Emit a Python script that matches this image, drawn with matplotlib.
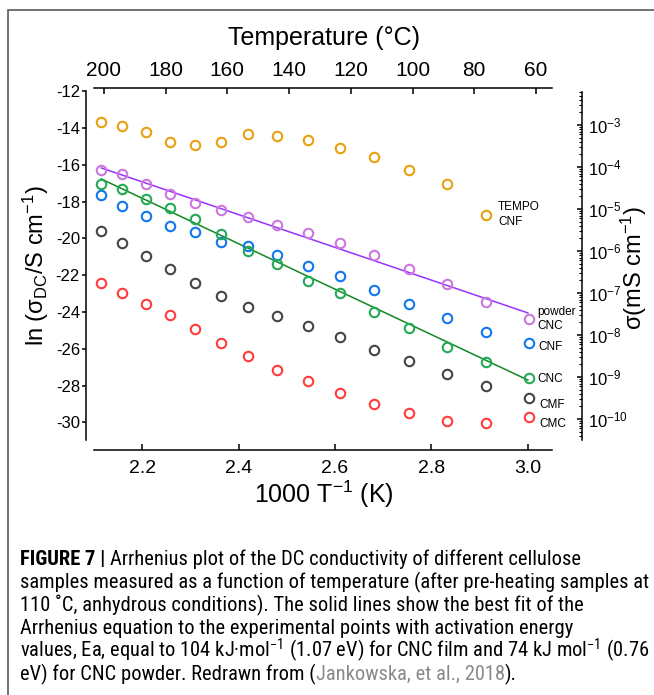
import numpy as np
import matplotlib
matplotlib.use("Agg")
import matplotlib.pyplot as plt
from matplotlib import font_manager
from matplotlib.ticker import FixedLocator, FuncFormatter, NullFormatter
from matplotlib.patches import Rectangle

plt.rcParams["font.family"] = ["Liberation Sans", "DejaVu Sans"]
plt.rcParams["axes.unicode_minus"] = False
plt.rcParams["mathtext.default"] = "regular"

# data: ln(sigma_DC / S cm-1) against 1000/T
inv_T = [2.114, 2.159, 2.207, 2.257, 2.309, 2.363, 2.420, 2.480,
         2.544, 2.610, 2.680, 2.754, 2.832, 2.914, 3.002]
tempo_cnf = [-13.66, -13.89, -14.23, -14.74, -14.92, -14.74, -14.33, -14.42,
             -14.65, -15.07, -15.59, -16.27, -17.06, -18.74]
powder_cnc = [-16.28, -16.50, -17.04, -17.60, -18.09, -18.47, -18.85, -19.27,
              -19.72, -20.27, -20.90, -21.65, -22.49, -23.44, -24.38]
cnf = [-17.64, -18.24, -18.78, -19.33, -19.67, -20.18, -20.40, -20.90,
       -21.48, -22.04, -22.80, -23.57, -24.33, -25.07, -25.70]
cnc_film = [-17.04, -17.33, -17.86, -18.36, -18.95, -19.76, -20.67, -21.39,
            -22.30, -22.98, -23.98, -24.85, -25.89, -26.70, -27.57]
cmf = [-19.60, -20.27, -20.96, -21.66, -22.41, -23.13, -23.73, -24.22,
       -24.76, -25.38, -26.07, -26.66, -27.37, -28.02, -28.66]
cmc = [-22.41, -22.98, -23.57, -24.17, -24.92, -25.70, -26.39, -27.15,
       -27.75, -28.39, -29.00, -29.51, -29.92, -30.05, -29.72]

# Arrhenius fit lines (end points)
powder_fit_x = [2.115, 3.0]
powder_fit_y = [-16.17, -24.05]
film_fit_x = [2.115, 3.0]
film_fit_y = [-16.77, -27.70]

x_ticks = [2.2, 2.4, 2.6, 2.8, 3.0]
y_ticks = [-12, -14, -16, -18, -20, -22, -24, -26, -28, -30]
temp_ticks = [200, 180, 160, 140, 120, 100, 80, 60]
sigma_exp = [-3, -4, -5, -6, -7, -8, -9, -10]

W, H = 654, 695
fig = plt.figure(figsize=(W / 100, H / 100), dpi=100)

# frame around the whole panel
fig.patches.append(Rectangle((8 / W, -0.05), 1.2, 1.05 - 10 / H, transform=fig.transFigure,
                             fill=False, ec="#5a5a5a", lw=1.2))

ax = fig.add_axes([94 / W, 1 - 440 / H, 458 / W, 352.3 / H])
ax.set_xlim(2.1, 3.05)
ax.set_ylim(-30.957, -11.81)

ms, mew = 6.8, 1.5
ax.plot(powder_fit_x, powder_fit_y, color="#9933FF", lw=1.1)
ax.plot(film_fit_x, film_fit_y, color="#118822", lw=1.1)

series = [
    (inv_T[:len(tempo_cnf)], tempo_cnf, "#E8A010"),
    (inv_T, powder_cnc, "#CC77DD"),
    (inv_T, cnf, "#1177EE"),
    (inv_T, cnc_film, "#22AA55"),
    (inv_T, cmf, "#444444"),
    (inv_T, cmc, "#FF3B3B"),
]
for xs, ys, c in series:
    ax.plot(xs, ys, "o", mfc="none", mec=c, ms=ms, mew=mew, clip_on=False)

lab = dict(fontsize=8.5, ha="left", va="center", linespacing=1.25)
ax.text(2.938, -18.7, "TEMPO\nCNF", **lab)
ax.text(3.019, -24.38, "powder\nCNC", **lab)
ax.text(3.021, -25.92, "CNF", **lab)
ax.text(3.019, -27.64, "CNC", **lab)
ax.text(3.023, -29.06, "CMF", **lab)
ax.text(3.023, -30.10, "CMC", **lab)

# bottom / left axes
for s in ["top", "right"]:
    ax.spines[s].set_visible(False)
ax.spines["left"].set_position(("outward", 5.8))
ax.spines["bottom"].set_position(("outward", 7.2))
ax.spines["left"].set_bounds(-30.957, -12)
for s in ["left", "bottom"]:
    ax.spines[s].set_linewidth(1.1)
ax.set_xticks(x_ticks)
ax.set_xticklabels(["%.1f" % v for v in x_ticks])
ax.set_yticks(y_ticks)
ax.tick_params(axis="x", direction="in", length=4.5, width=1.1, labelsize=14, pad=7)
ax.tick_params(axis="y", direction="out", length=3, width=1.1, labelsize=12, pad=1.3)
ax.set_xlabel("1000 T$^{-1}$ (K)", fontsize=18)
ax.xaxis.set_label_coords(324 / W, 1 - 494 / H, transform=fig.transFigure)
ax.xaxis.label.set_va("center")
ax.set_ylabel("ln (σ$_{DC}$/S cm$^{-1}$)", fontsize=17)
ax.yaxis.set_label_coords(36 / W, 1 - 266 / H, transform=fig.transFigure)
ax.yaxis.label.set_va("center")

# top temperature axis
ax_t = ax.twiny()
ax_t.set_xlim(203.2, 54.8)
for s in ["left", "right", "bottom"]:
    ax_t.spines[s].set_visible(False)
ax_t.spines["top"].set_linewidth(1.1)
ax_t.set_xticks(temp_ticks)
ax_t.tick_params(axis="x", direction="in", length=4.5, width=1.1, labelsize=15, pad=5.5)
ax_t.set_xlabel("Temperature (°C)", fontsize=18)
ax_t.xaxis.set_label_coords(324 / W, 1 - 38 / H, transform=fig.transFigure)
ax_t.xaxis.label.set_va("center")

# right conductivity axis (log)
ax_r = ax.twinx()
ax_r.set_yscale("log")
ax_r.set_ylim(10 ** -10.5, 10 ** -2.112)
for s in ["left", "top", "bottom"]:
    ax_r.spines[s].set_visible(False)
ax_r.spines["right"].set_position(("outward", 21.6))
ax_r.spines["right"].set_bounds(10 ** -10.5, 10 ** -2.21)
ax_r.spines["right"].set_linewidth(1.1)
major = [10.0 ** e for e in sigma_exp]
minor = [k * 10.0 ** e for e in range(-11, -2) for k in range(2, 10)]
minor = [v for v in minor if 10 ** -10.5 <= v <= 10 ** -2.21]
ax_r.yaxis.set_major_locator(FixedLocator(major))
ax_r.yaxis.set_minor_locator(FixedLocator(minor))
ax_r.yaxis.set_major_formatter(FuncFormatter(lambda v, p: "10$^{%d}$" % round(np.log10(v))))
ax_r.yaxis.set_minor_formatter(NullFormatter())
ax_r.tick_params(axis="y", which="major", direction="in", length=3.6, width=1.1, labelsize=12, pad=4.3)
ax_r.tick_params(axis="y", which="minor", direction="in", length=2, width=0.8)
ax_r.set_ylabel("σ(mS cm$^{-1}$)", fontsize=17)
ax_r.yaxis.set_label_coords(634 / W, 1 - 268 / H, transform=fig.transFigure)
ax_r.yaxis.label.set_va("center")

# caption, in the narrowest installed sans family
names = {f.name for f in font_manager.fontManager.ttflist}
cap_font = ["Liberation Sans", "DejaVu Sans"]
for cand in ["Liberation Sans Narrow", "Roboto Condensed", "Open Sans Condensed", "Roboto"]:
    if cand in names:
        cap_font = [cand, "DejaVu Sans"]
        break

caption = [
    [("FIGURE 7 |", "bold", "black", False),
     ("Arrhenius plot of the DC conductivity of different cellulose", "normal", "black", True)],
    [("samples measured as a function of temperature (after pre-heating samples at", "normal", "black", False)],
    [("110 ˚C, anhydrous conditions). The solid lines show the best fit of the", "normal", "black", False)],
    [("Arrhenius equation to the experimental points with activation energy", "normal", "black", False)],
    [("values, Ea, equal to 104 kJ·mol$^{-1}$ (1.07 eV) for CNC film and 74 kJ mol$^{-1}$ (0.76",
      "normal", "black", False)],
    [("eV) for CNC powder. Redrawn from (", "normal", "black", False),
     ("Jankowska, et al., 2018", "normal", "#8a8a8a", False),
     (").", "normal", "black", False)],
]
baselines = [565, 588, 611, 634, 657, 680]

renderer = fig.canvas.get_renderer()
widest = 0
for segs in caption:
    probe = fig.text(0, 0, " ".join(s[0] for s in segs), fontsize=12, family=cap_font)
    widest = max(widest, probe.get_window_extent(renderer).width)
    probe.remove()
size = min(12 * 628 / widest, 15)

p1 = fig.text(0, 0, "a a", fontsize=size, family=cap_font)
p2 = fig.text(0, 0, "aa", fontsize=size, family=cap_font)
space = p1.get_window_extent(renderer).width - p2.get_window_extent(renderer).width
p1.remove()
p2.remove()

for segs, yb in zip(caption, baselines):
    x = 20
    for text, weight, color, gap in segs:
        if gap:
            x += space
        t = fig.text(x / W, 1 - yb / H, text, fontsize=size, fontweight=weight,
                     color=color, family=cap_font, ha="left", va="baseline")
        x = t.get_window_extent(renderer).x1

fig.savefig("out.png", dpi=100)
